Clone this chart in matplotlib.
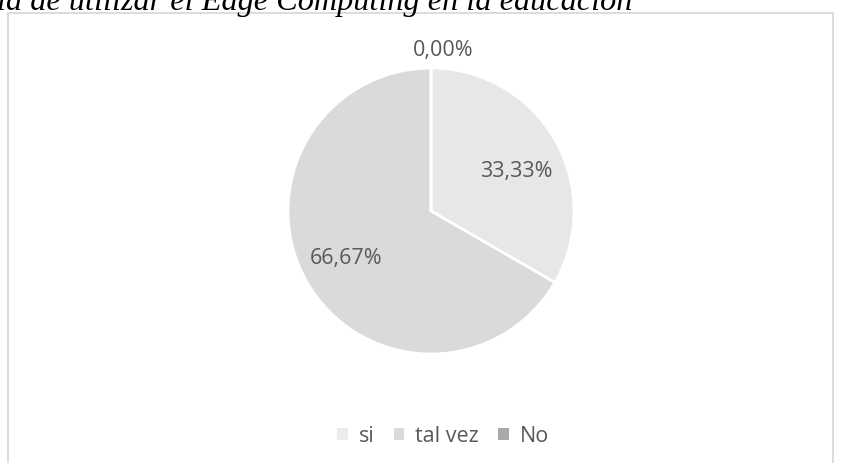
import matplotlib
matplotlib.use("Agg")
import matplotlib.pyplot as plt
from matplotlib.patches import Patch, Rectangle
from matplotlib.transforms import offset_copy
import numpy as np

W, H = 842, 464

labels = ["si", "tal vez", "No"]
values = [33.33, 66.67, 0.00]
colors = ["#e7e7e7", "#dadada", "#a9a9a9"]
legend_colors = ["#ececec", "#dadada", "#a9a9a9"]
title = "ia de utilizar el Edge Computing en la educación"

TEXT = "#595959"
FONT = "Open Sans"

fig = plt.figure(figsize=(W / 100, H / 100), dpi=100)
fig.patch.set_facecolor("white")

# chart frame, runs past the bottom edge
fig.add_artist(Rectangle((8 / W, -0.05), (W - 9) / W - 8 / W, 1 - 14 / H + 0.05,
                         transform=fig.transFigure, fill=False,
                         edgecolor="#d9d9d9", linewidth=1.3))

# caption above the chart, clipped by the top of the image
fig.text(-3 / W, 1 - 10 / H, title, family="Liberation Serif", style="italic",
         fontsize=23.2, color="black", ha="left", va="baseline")

cx, cy, r = 431, 212, 143
ax = fig.add_axes([(cx - r) / W, (H - cy - r) / H, 2 * r / W, 2 * r / H])
wedges, _ = ax.pie(values, colors=colors, startangle=90, counterclock=False,
                   radius=1, wedgeprops=dict(edgecolor="white", linewidth=2))
ax.set_xlim(-1, 1)
ax.set_ylim(-1, 1)
ax.set_aspect("equal")
ax.axis("off")

# nudge labels down a little so the digits sit visually centred
lbl_tr = offset_copy(ax.transData, fig=fig, x=0, y=-3, units="dots")
for w, v in zip(wedges, values):
    mid = (w.theta1 + w.theta2) / 2
    txt = f"{v:.2f}%".replace(".", ",")
    if v > 0:
        ang = np.deg2rad(mid - 3)
        x, y = 0.67 * np.cos(ang), 0.67 * np.sin(ang)
    else:
        ang = np.deg2rad(mid)
        x, y = 1.15 * np.cos(ang) + 0.085, 1.15 * np.sin(ang)
    ax.text(x, y, txt, ha="center", va="center", fontsize=15.5,
            family=FONT, color=TEXT, clip_on=False, transform=lbl_tr)

handles = [Patch(facecolor=c, edgecolor="none") for c in legend_colors]
fig.legend(handles, labels, loc="center", bbox_to_anchor=(443 / W, 1 - 437 / H),
           ncol=3, frameon=False, handlelength=0.5, handleheight=0.5,
           handletextpad=0.5, columnspacing=0.9,
           prop=dict(family=FONT, size=15.5), labelcolor=TEXT)

fig.savefig("out.png", dpi=100)
